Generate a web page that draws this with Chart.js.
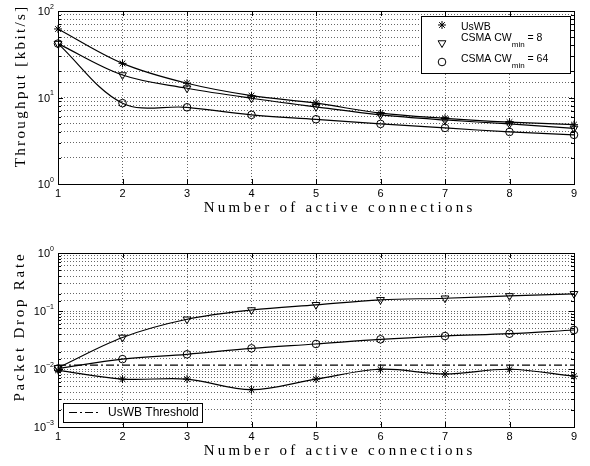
<!DOCTYPE html>
<html>
<head>
<meta charset="utf-8">
<script src="https://cdn.jsdelivr.net/npm/chart.js@4"></script>
<style>
html, body { margin: 0; padding: 0; background: #fff; }
canvas { display: block; }
</style>
</head>
<body>
<canvas id="throughputChart" width="590" height="230"></canvas>
<canvas id="dropChart" width="590" height="236"></canvas>
<script>
const connections = [1, 2, 3, 4, 5, 6, 7, 8, 9];

// throughput [kbit/s]
const throughputUswb = [62, 24.8, 14.6, 10.5, 8.6, 6.6, 5.75, 5.2, 4.85];
const throughputCw8 = [42, 18.2, 12.8, 9.8, 7.8, 6.3, 5.5, 4.95, 4.4];
const throughputCw64 = [42, 8.6, 7.7, 6.3, 5.6, 4.95, 4.45, 4.0, 3.7];

// packet drop rate
const dropUswb = [0.0095, 0.0067, 0.0067, 0.0044, 0.0067, 0.0099, 0.0082, 0.0099, 0.0075];
const dropCw8 = [0.0105, 0.035, 0.072, 0.104, 0.128, 0.156, 0.166, 0.182, 0.198];
const dropCw64 = [0.0102, 0.0148, 0.0179, 0.0227, 0.027, 0.0325, 0.037, 0.0406, 0.047];
const uswbThreshold = 0.0117;

const throughputDecades = [1, 10, 100];
const dropDecades = [0.001, 0.01, 0.1, 1];

const sansFont = '"Liberation Sans", Arial, sans-serif';
const serifFont = '"Liberation Serif", "Times New Roman", serif';

function isDecade(v) {
    const l = Math.log10(v);
    return Math.abs(l - Math.round(l)) < 1e-6;
}

function drawSciLabel(ctx, exp, xRight, y) {
    ctx.font = '7px ' + sansFont;
    const ew = ctx.measureText(exp).width;
    ctx.font = '11px ' + sansFont;
    const bw = ctx.measureText('10').width;
    ctx.textAlign = 'left';
    ctx.textBaseline = 'middle';
    ctx.fillText('10', xRight - ew - bw, y + 1);
    ctx.font = '7px ' + sansFont;
    ctx.fillText(exp, xRight - ew, y - 4);
}

function drawSpaced(ctx, text, x, y, width) {
    ctx.letterSpacing = '0px';
    const w0 = ctx.measureText(text).width;
    const sp = Math.max(0, (width - w0) / text.length);
    ctx.letterSpacing = sp + 'px';
    ctx.fillText(text, x + sp / 2, y);
    ctx.letterSpacing = '0px';
}

// matlab style box, inner ticks, labels and titles
function axesPlugin(cfg) {
    return {
        id: 'matlabAxes',
        afterDraw(chart) {
            const ctx = chart.ctx, a = chart.chartArea;
            const xs = chart.scales.x, ys = chart.scales.y;
            ctx.save();
            ctx.strokeStyle = '#000';
            ctx.lineWidth = 1;
            ctx.setLineDash([]);
            ctx.strokeRect(a.left + 0.5, a.top + 0.5, a.right - a.left, a.bottom - a.top);
            ctx.beginPath();
            xs.ticks.forEach((t, i) => {
                const x = Math.round(xs.getPixelForTick(i)) + 0.5;
                ctx.moveTo(x, a.bottom); ctx.lineTo(x, a.bottom - 5);
                ctx.moveTo(x, a.top); ctx.lineTo(x, a.top + 5);
            });
            ys.ticks.forEach(t => {
                const y = Math.round(ys.getPixelForValue(t.value)) + 0.5;
                const len = isDecade(t.value) ? 5 : 3;
                ctx.moveTo(a.left, y); ctx.lineTo(a.left + len, y);
                ctx.moveTo(a.right, y); ctx.lineTo(a.right - len, y);
            });
            ctx.stroke();

            ctx.fillStyle = '#000';
            ctx.font = '11px ' + sansFont;
            ctx.textAlign = 'center';
            ctx.textBaseline = 'middle';
            xs.ticks.forEach((t, i) => {
                ctx.fillText(String(chart.data.labels[i]), xs.getPixelForTick(i), a.bottom + 10);
            });
            cfg.decades.forEach(v => {
                const e = Math.round(Math.log10(v));
                drawSciLabel(ctx, e < 0 ? '\u2212' + (-e) : String(e), a.left - 4, ys.getPixelForValue(v));
            });

            ctx.font = '15px ' + serifFont;
            ctx.textAlign = 'center';
            ctx.textBaseline = 'middle';
            drawSpaced(ctx, cfg.xTitle, 338, a.bottom + cfg.xTitleGap, 272);
            ctx.save();
            ctx.translate(cfg.yTitleX, cfg.yTitleY);
            ctx.rotate(-Math.PI / 2);
            drawSpaced(ctx, cfg.yTitle, 0, 0, cfg.yTitleWidth);
            ctx.restore();

            if (cfg.legend) cfg.legend(ctx, chart);
            ctx.restore();
        }
    };
}

function baseOptions(yMin, yMax, xHeight, padTop) {
    return {
        responsive: false,
        animation: false,
        layout: { padding: { top: padTop, right: 16, left: 0, bottom: 0 }, autoPadding: false },
        plugins: { legend: { display: false }, tooltip: { enabled: false } },
        elements: {
            line: { borderColor: '#000', borderWidth: 1.2, tension: 0.35 },
            point: { borderColor: '#000', backgroundColor: 'rgba(0,0,0,0)', borderWidth: 1, radius: 4 }
        },
        scales: {
            x: {
                type: 'category',
                offset: false,
                ticks: { display: false },
                grid: { color: 'rgba(0,0,0,0.6)', drawTicks: false, offset: false },
                border: { display: false, dash: [1, 2] },
                afterFit(scale) { scale.height = xHeight; }
            },
            y: {
                type: 'logarithmic',
                min: yMin,
                max: yMax,
                ticks: { display: false },
                grid: { color: 'rgba(0,0,0,0.6)', drawTicks: false },
                border: { display: false, dash: [1, 2] },
                afterFit(scale) { scale.width = 58; }
            }
        }
    };
}

function legendMarker(ctx, style, rotation, radius, x, y) {
    ctx.fillStyle = '#fff';
    ctx.strokeStyle = '#000';
    ctx.lineWidth = 1;
    Chart.helpers.drawPoint(ctx, { pointStyle: style, rotation: rotation, radius: radius, borderWidth: 1 }, x, y);
}

function cwLabel(ctx, x, y, value) {
    ctx.fillStyle = '#000';
    ctx.textAlign = 'left';
    ctx.textBaseline = 'middle';
    ctx.font = '10.5px ' + sansFont;
    const main = 'CSMA CW';
    ctx.fillText(main, x, y);
    let cx = x + ctx.measureText(main).width;
    ctx.font = '8px ' + sansFont;
    ctx.fillText('min', cx, y + 7);
    cx += ctx.measureText('min').width;
    ctx.font = '10.5px ' + sansFont;
    ctx.fillText(' = ' + value, cx, y);
}

new Chart(document.getElementById('throughputChart'), {
    type: 'line',
    data: {
        labels: connections,
        datasets: [
            { label: 'UsWB', data: throughputUswb, pointStyle: 'star', pointRadius: 4 },
            { label: 'CSMA CWmin = 8', data: throughputCw8, pointStyle: 'triangle', pointRotation: 180, pointRadius: 4.5 },
            { label: 'CSMA CWmin = 64', data: throughputCw64, pointStyle: 'circle', pointRadius: 3.8 }
        ]
    },
    options: baseOptions(1, 100, 46, 11),
    plugins: [axesPlugin({
        decades: throughputDecades,
        xTitle: 'Number of active connections',
        xTitleGap: 24,
        yTitle: 'Throughput [kbit/s]',
        yTitleX: 21,
        yTitleY: 87,
        yTitleWidth: 163,
        legend(ctx) {
            ctx.fillStyle = '#fff';
            ctx.fillRect(421, 16, 149, 57);
            ctx.strokeStyle = '#000';
            ctx.lineWidth = 1;
            ctx.strokeRect(421.5, 16.5, 149, 57);
            legendMarker(ctx, 'star', 0, 4, 442, 25);
            legendMarker(ctx, 'triangle', 180, 4.5, 442, 43);
            legendMarker(ctx, 'circle', 0, 3.8, 442, 62);
            ctx.fillStyle = '#000';
            ctx.font = '10.5px ' + sansFont;
            ctx.textAlign = 'left';
            ctx.textBaseline = 'middle';
            ctx.fillText('UsWB', 461, 27);
            cwLabel(ctx, 461, 38, '8');
            cwLabel(ctx, 461, 59, '64');
        }
    })]
});

new Chart(document.getElementById('dropChart'), {
    type: 'line',
    data: {
        labels: connections,
        datasets: [
            { label: 'UsWB', data: dropUswb, pointStyle: 'star', pointRadius: 4 },
            { label: 'CSMA CWmin = 8', data: dropCw8, pointStyle: 'triangle', pointRotation: 180, pointRadius: 4.5 },
            { label: 'CSMA CWmin = 64', data: dropCw64, pointStyle: 'circle', pointRadius: 3.8 },
            {
                label: 'UsWB Threshold',
                data: connections.map(() => uswbThreshold),
                borderDash: [8, 3, 2, 3],
                pointRadius: 0,
                tension: 0
            }
        ]
    },
    options: baseOptions(0.001, 1, 39, 23),
    plugins: [axesPlugin({
        decades: dropDecades,
        xTitle: 'Number of active connections',
        xTitleGap: 24,
        yTitle: 'Packet Drop Rate',
        yTitleX: 20,
        yTitleY: 98,
        yTitleWidth: 150,
        legend(ctx) {
            ctx.fillStyle = '#fff';
            ctx.fillRect(63, 173, 139, 19);
            ctx.strokeStyle = '#000';
            ctx.lineWidth = 1;
            ctx.strokeRect(63.5, 173.5, 139, 19);
            ctx.setLineDash([8, 3, 2, 3]);
            ctx.beginPath();
            ctx.moveTo(69, 182.5);
            ctx.lineTo(100, 182.5);
            ctx.stroke();
            ctx.setLineDash([]);
            ctx.fillStyle = '#000';
            ctx.font = '12px ' + sansFont;
            ctx.textAlign = 'left';
            ctx.textBaseline = 'middle';
            ctx.fillText('UsWB Threshold', 108, 183);
        }
    })]
});
</script>
</body>
</html>
